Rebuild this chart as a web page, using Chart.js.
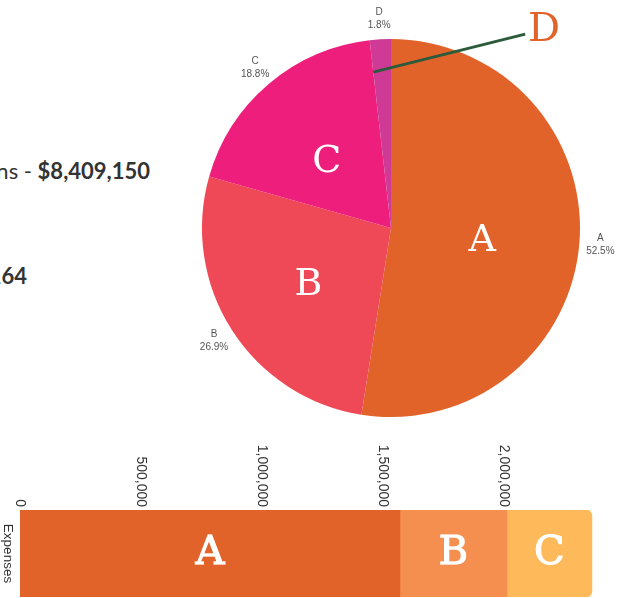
<!DOCTYPE html>
<html>
<head>
<meta charset="utf-8">
<script src="https://cdn.jsdelivr.net/npm/chart.js@4.4.0/dist/chart.umd.min.js"></script>
<style>
html, body { margin: 0; padding: 0; width: 619px; height: 598px; overflow: hidden; background: #fff; }
.stat { position: absolute; white-space: nowrap; font-family: Lato, sans-serif; font-size: 22px; color: #333; text-align: right; line-height: 24px; }
#pieCanvas { position: absolute; left: 0; top: 0; }
#barBox { position: absolute; left: 0; top: 0; width: 160px; height: 640px; transform-origin: 0 0; transform: translate(640px, 440px) rotate(90deg); }
</style>
</head>
<body>
<div class="stat" style="right:469px; top:159px;">Total donations - <b>$8,409,150</b></div>
<div class="stat" style="right:592px; top:264px;"><b>Total expenses - $2,363,164</b></div>
<canvas id="pieCanvas" width="619" height="440"></canvas>
<div id="barBox"><canvas id="barCanvas" width="160" height="640"></canvas></div>
<script>
// pie: share of each category (%)
const pieLabels = ['A', 'B', 'C', 'D']
const pieShares = [52.5, 26.9, 18.8, 1.8]
const pieColors = ['#E2632A', '#EF4856', '#EE1F7C', '#CF3A96']

// stacked expenses bar
const barCategories = ['Expenses']
const expenseNames = ['A', 'B', 'C']
const expenseValues = [1570000, 442000, 351000]
const expenseColors = ['#E2632A', '#F58F50', '#FDB95A']
const valueTicks = [0, 500000, 1000000, 1500000, 2000000, 2500000]

const pieLabelPlugin = {
    id: 'pieLabels',
    afterDatasetsDraw(chart) {
        const ctx = chart.ctx
        const arcs = chart.getDatasetMeta(0).data
        ctx.save()
        arcs.forEach((arc, i) => {
            const { x, y, startAngle, endAngle, outerRadius } = arc.getProps(['x', 'y', 'startAngle', 'endAngle', 'outerRadius'], true)
            const mid = (startAngle + endAngle) / 2
            // small label outside the slice
            const ox = x + Math.cos(mid) * (outerRadius + 21)
            const oy = y + Math.sin(mid) * (outerRadius + 21)
            ctx.fillStyle = '#555'
            ctx.font = '10px Arial'
            ctx.textAlign = 'center'
            ctx.textBaseline = 'middle'
            ctx.fillText(pieLabels[i], ox, oy - 6.5)
            ctx.fillText(pieShares[i].toFixed(1) + '%', ox, oy + 6.5)

            if (i < 3) {
                ctx.fillStyle = '#fff'
                ctx.font = '38px "DejaVu Serif"'
                ctx.fillText(pieLabels[i], x + Math.cos(mid) * outerRadius * 0.5 - 3, y + Math.sin(mid) * outerRadius * 0.5 + 6)
            } else {
                // callout for the thin slice
                const sx = x + Math.cos(startAngle) * outerRadius * 0.83
                const sy = y + Math.sin(startAngle) * outerRadius * 0.83
                ctx.strokeStyle = '#2B5B3A'
                ctx.lineWidth = 3
                ctx.beginPath()
                ctx.moveTo(sx, sy)
                ctx.lineTo(x + outerRadius * 0.71, y - outerRadius * 1.026)
                ctx.stroke()
                ctx.fillStyle = pieColors[0]
                ctx.font = '40px "DejaVu Serif"'
                ctx.fillText(pieLabels[i], x + outerRadius * 0.81, y - outerRadius * 1.045)
            }
        })
        ctx.restore()
    }
}

new Chart(document.getElementById('pieCanvas'), {
    type: 'pie',
    data: {
        labels: pieLabels,
        datasets: [{
            data: pieShares,
            backgroundColor: pieColors,
            borderWidth: 0
        }]
    },
    options: {
        responsive: false,
        animation: false,
        layout: { padding: { left: 202, top: 39, right: 39, bottom: 23 } },
        plugins: { legend: { display: false }, tooltip: { enabled: false } }
    },
    plugins: [pieLabelPlugin]
})

// letters in the middle of each bar piece; canvas is turned 90deg so text is turned back
const barLetterPlugin = {
    id: 'barLetters',
    afterDatasetsDraw(chart) {
        const ctx = chart.ctx
        ctx.save()
        ctx.fillStyle = '#fff'
        ctx.strokeStyle = '#fff'
        ctx.lineWidth = 1.2
        ctx.font = '40px "DejaVu Serif"'
        ctx.textAlign = 'center'
        ctx.textBaseline = 'middle'
        chart.data.datasets.forEach((ds, i) => {
            const bar = chart.getDatasetMeta(i).data[0]
            const { x, y, base } = bar.getProps(['x', 'y', 'base'], true)
            ctx.save()
            ctx.translate(x, (y + base) / 2)
            ctx.rotate(-Math.PI / 2)
            ctx.fillText(expenseNames[i], 0, 0)
            ctx.strokeText(expenseNames[i], 0, 0)
            ctx.restore()
        })
        ctx.restore()
    }
}

new Chart(document.getElementById('barCanvas'), {
    type: 'bar',
    data: {
        labels: barCategories,
        datasets: expenseNames.map((name, i) => ({
            label: name,
            data: [expenseValues[i]],
            backgroundColor: expenseColors[i],
            borderRadius: i === expenseNames.length - 1 ? 6 : 0,
            borderSkipped: 'start',
            barPercentage: 1,
            categoryPercentage: 1
        }))
    },
    options: {
        responsive: false,
        animation: false,
        layout: { padding: { top: 15, right: 3, bottom: 0, left: 0 } },
        plugins: { legend: { display: false }, tooltip: { enabled: false } },
        scales: {
            x: {
                stacked: true,
                grid: { display: false, drawTicks: false },
                border: { display: false },
                ticks: { padding: 4, color: '#333', font: { size: 13.5 } },
                afterFit(scale) { scale.height = 20 }
            },
            y: {
                stacked: true,
                min: valueTicks[0],
                max: valueTicks[valueTicks.length - 1],
                grid: { display: false, drawTicks: false },
                border: { display: false },
                ticks: { stepSize: valueTicks[1] - valueTicks[0], padding: 3, color: '#333', font: { size: 14 } },
                afterFit(scale) { scale.width = 70 }
            }
        }
    },
    plugins: [barLetterPlugin]
})
</script>
</body>
</html>
